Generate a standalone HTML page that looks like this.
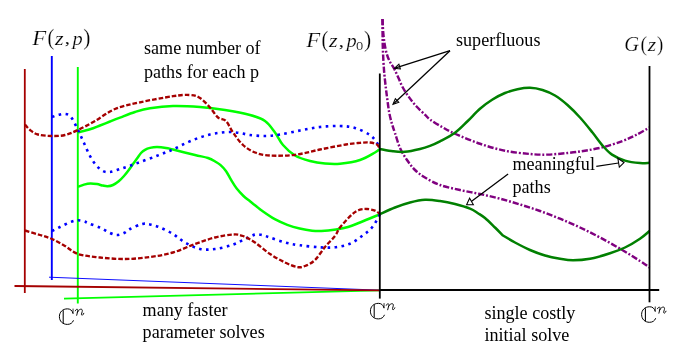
<!DOCTYPE html>
<html><head><meta charset="utf-8"><title>Parameter homotopy diagram</title>
<style>
html,body{margin:0;padding:0;background:#fff;}
body{width:692px;height:346px;overflow:hidden;font-family:"Liberation Serif",serif;}
svg{display:block;position:absolute;left:0;top:0;opacity:0.999;will-change:transform;}
</style></head><body>
<svg width="692" height="346" viewBox="0 0 692 346">
<rect width="692" height="346" fill="#fff"/>
<path d="M24.8 69 V293" stroke="#a50000" stroke-width="1.8" fill="none"/>
<path d="M51.8 56 V280" stroke="#0000ff" stroke-width="1.9" fill="none"/>
<path d="M77.8 67 V303.5" stroke="#00ff00" stroke-width="1.9" fill="none"/>
<path d="M64 298.7 L380 290.3" stroke="#00ff00" stroke-width="1.75" fill="none"/>
<path d="M49 277.2 L380 290.2" stroke="#0000ff" stroke-width="0.95" fill="none"/>
<path d="M14.5 286.0 L380 290.3" stroke="#a50000" stroke-width="1.8" fill="none"/>
<path d="M78.00 132.40 C80.00 131.88 86.33 130.45 90.00 129.30 C93.67 128.15 96.67 126.80 100.00 125.50 C103.33 124.20 106.67 122.82 110.00 121.50 C113.33 120.18 115.83 119.18 120.00 117.60 C124.17 116.02 130.00 113.57 135.00 112.00 C140.00 110.43 143.67 109.20 150.00 108.20 C156.33 107.20 164.67 106.20 173.00 106.00 C181.33 105.80 191.33 106.33 200.00 107.00 C208.67 107.67 216.67 108.67 225.00 110.00 C233.33 111.33 243.33 113.17 250.00 115.00 C256.67 116.83 260.83 118.08 265.00 121.00 C269.17 123.92 272.00 128.50 275.00 132.50 C278.00 136.50 279.67 141.17 283.00 145.00 C286.33 148.83 290.50 152.83 295.00 155.50 C299.50 158.17 305.00 159.67 310.00 161.00 C315.00 162.33 320.00 163.05 325.00 163.50 C330.00 163.95 334.17 164.28 340.00 163.70 C345.83 163.12 354.17 161.87 360.00 160.00 C365.83 158.13 371.67 154.33 375.00 152.50 C378.33 150.67 379.17 149.58 380.00 149.00" stroke="#00ff00" stroke-width="2.5" fill="none"/>
<path d="M78.00 186.80 C79.00 186.43 81.93 185.17 84.00 184.60 C86.07 184.03 88.23 183.48 90.40 183.40 C92.57 183.32 94.90 183.73 97.00 184.10 C99.10 184.47 101.23 185.25 103.00 185.60 C104.77 185.95 105.93 186.30 107.60 186.20 C109.27 186.10 111.15 185.82 113.00 185.00 C114.85 184.18 116.87 182.80 118.70 181.30 C120.53 179.80 122.32 177.87 124.00 176.00 C125.68 174.13 127.30 172.10 128.80 170.10 C130.30 168.10 131.63 165.92 133.00 164.00 C134.37 162.08 135.67 160.43 137.00 158.60 C138.33 156.77 139.67 154.47 141.00 153.00 C142.33 151.53 143.50 150.65 145.00 149.80 C146.50 148.95 148.00 148.35 150.00 147.90 C152.00 147.45 154.33 147.10 157.00 147.10 C159.67 147.10 163.33 147.50 166.00 147.90 C168.67 148.30 168.17 148.32 173.00 149.50 C177.83 150.68 189.17 153.58 195.00 155.00 C200.83 156.42 204.50 156.83 208.00 158.00 C211.50 159.17 213.90 160.80 216.00 162.00 C218.10 163.20 218.92 163.67 220.60 165.20 C222.28 166.73 224.35 168.75 226.10 171.20 C227.85 173.65 229.33 177.00 231.10 179.90 C232.87 182.80 234.63 185.92 236.70 188.60 C238.77 191.28 241.28 193.88 243.50 196.00 C245.72 198.12 247.92 199.63 250.00 201.30 C252.08 202.97 253.93 204.37 256.00 206.00 C258.07 207.63 259.27 208.90 262.40 211.10 C265.53 213.30 270.65 216.92 274.80 219.20 C278.95 221.48 283.15 223.25 287.30 224.80 C291.45 226.35 295.57 227.52 299.70 228.50 C303.83 229.48 308.48 230.28 312.10 230.70 C315.72 231.12 317.42 231.22 321.40 231.00 C325.38 230.78 331.57 230.07 336.00 229.40 C340.43 228.73 344.00 228.15 348.00 227.00 C352.00 225.85 354.67 224.63 360.00 222.50 C365.33 220.37 376.67 215.58 380.00 214.20" stroke="#00ff00" stroke-width="2.5" fill="none"/>
<path d="M52.00 117.00 C53.00 116.67 55.83 115.50 58.00 115.00 C60.17 114.50 62.83 113.67 65.00 114.00 C67.17 114.33 68.83 114.33 71.00 117.00 C73.17 119.67 75.83 125.67 78.00 130.00 C80.17 134.33 82.00 138.67 84.00 143.00 C86.00 147.33 88.00 152.33 90.00 156.00 C92.00 159.67 93.83 162.50 96.00 165.00 C98.17 167.50 100.67 169.83 103.00 171.00 C105.33 172.17 107.17 172.33 110.00 172.00 C112.83 171.67 116.67 170.05 120.00 169.00 C123.33 167.95 126.50 166.92 130.00 165.70 C133.50 164.48 136.83 163.22 141.00 161.70 C145.17 160.18 150.83 158.18 155.00 156.60 C159.17 155.02 163.00 153.38 166.00 152.20 C169.00 151.02 170.50 150.62 173.00 149.50 C175.50 148.38 178.17 146.87 181.00 145.50 C183.83 144.13 186.83 142.65 190.00 141.30 C193.17 139.95 196.67 138.55 200.00 137.40 C203.33 136.25 206.67 135.18 210.00 134.40 C213.33 133.62 216.67 133.10 220.00 132.70 C223.33 132.30 226.67 131.95 230.00 132.00 C233.33 132.05 236.67 132.50 240.00 133.00 C243.33 133.50 245.83 134.50 250.00 135.00 C254.17 135.50 260.00 136.08 265.00 136.00 C270.00 135.92 274.17 135.42 280.00 134.50 C285.83 133.58 293.33 131.75 300.00 130.50 C306.67 129.25 313.33 127.75 320.00 127.00 C326.67 126.25 334.17 125.83 340.00 126.00 C345.83 126.17 350.00 126.50 355.00 128.00 C360.00 129.50 366.33 132.50 370.00 135.00 C373.67 137.50 375.33 140.67 377.00 143.00 C378.67 145.33 379.50 148.00 380.00 149.00" stroke="#0000ff" stroke-width="2.6" stroke-dasharray="2.6 4.4" fill="none"/>
<path d="M52.00 231.00 C53.00 230.50 55.83 229.08 58.00 228.00 C60.17 226.92 62.67 225.58 65.00 224.50 C67.33 223.42 69.83 222.20 72.00 221.50 C74.17 220.80 76.00 220.33 78.00 220.30 C80.00 220.27 82.17 220.77 84.00 221.30 C85.83 221.83 86.25 222.42 89.00 223.50 C91.75 224.58 97.00 226.22 100.50 227.80 C104.00 229.38 107.25 231.80 110.00 233.00 C112.75 234.20 114.67 235.00 117.00 235.00 C119.33 235.00 121.83 234.00 124.00 233.00 C126.17 232.00 127.00 230.50 130.00 229.00 C133.00 227.50 138.67 224.75 142.00 224.00 C145.33 223.25 147.00 223.92 150.00 224.50 C153.00 225.08 156.17 225.92 160.00 227.50 C163.83 229.08 168.83 231.50 173.00 234.00 C177.17 236.50 180.50 240.00 185.00 242.50 C189.50 245.00 195.00 247.92 200.00 249.00 C205.00 250.08 209.67 249.67 215.00 249.00 C220.33 248.33 227.00 246.67 232.00 245.00 C237.00 243.33 241.17 240.73 245.00 239.00 C248.83 237.27 252.17 235.27 255.00 234.60 C257.83 233.93 259.50 234.52 262.00 235.00 C264.50 235.48 266.17 236.25 270.00 237.50 C273.83 238.75 280.00 241.20 285.00 242.50 C290.00 243.80 294.17 244.50 300.00 245.30 C305.83 246.10 314.17 246.97 320.00 247.30 C325.83 247.63 330.00 247.90 335.00 247.30 C340.00 246.70 345.50 245.58 350.00 243.70 C354.50 241.82 358.33 238.70 362.00 236.00 C365.67 233.30 369.00 231.13 372.00 227.50 C375.00 223.87 378.67 216.42 380.00 214.20" stroke="#0000ff" stroke-width="2.6" stroke-dasharray="2.6 4.4" fill="none"/>
<path d="M25.00 124.50 C25.83 125.42 27.83 128.33 30.00 130.00 C32.17 131.67 34.33 133.50 38.00 134.50 C41.67 135.50 47.50 135.92 52.00 136.00 C56.50 136.08 60.67 136.00 65.00 135.00 C69.33 134.00 73.00 132.33 78.00 130.00 C83.00 127.67 88.83 124.50 95.00 121.00 C101.17 117.50 107.50 112.12 115.00 109.00 C122.50 105.88 130.33 104.43 140.00 102.30 C149.67 100.17 164.67 97.42 173.00 96.20 C181.33 94.98 185.50 94.70 190.00 95.00 C194.50 95.30 196.67 95.92 200.00 98.00 C203.33 100.08 207.00 104.25 210.00 107.50 C213.00 110.75 215.33 115.25 218.00 117.50 C220.67 119.75 223.50 118.50 226.00 121.00 C228.50 123.50 230.17 128.50 233.00 132.50 C235.83 136.50 239.33 141.67 243.00 145.00 C246.67 148.33 250.50 150.75 255.00 152.50 C259.50 154.25 263.33 155.12 270.00 155.50 C276.67 155.88 286.67 155.80 295.00 154.80 C303.33 153.80 311.50 151.22 320.00 149.50 C328.50 147.78 339.33 145.62 346.00 144.50 C352.67 143.38 356.00 143.13 360.00 142.80 C364.00 142.47 367.17 142.22 370.00 142.50 C372.83 142.78 375.33 143.42 377.00 144.50 C378.67 145.58 379.50 148.25 380.00 149.00" stroke="#a50000" stroke-width="2.35" stroke-dasharray="4.6 2.0" fill="none"/>
<path d="M25.00 230.50 C27.50 231.25 35.50 233.58 40.00 235.00 C44.50 236.42 47.83 237.17 52.00 239.00 C56.17 240.83 60.67 243.50 65.00 246.00 C69.33 248.50 72.17 252.08 78.00 254.00 C83.83 255.92 92.17 256.67 100.00 257.50 C107.83 258.33 116.67 259.08 125.00 259.00 C133.33 258.92 142.00 258.08 150.00 257.00 C158.00 255.92 165.50 254.67 173.00 252.50 C180.50 250.33 188.00 246.50 195.00 244.00 C202.00 241.50 208.67 239.08 215.00 237.50 C221.33 235.92 228.33 234.75 233.00 234.50 C237.67 234.25 239.33 234.67 243.00 236.00 C246.67 237.33 250.50 239.50 255.00 242.50 C259.50 245.50 265.00 250.67 270.00 254.00 C275.00 257.33 280.50 260.33 285.00 262.50 C289.50 264.67 293.67 266.42 297.00 267.00 C300.33 267.58 302.00 267.17 305.00 266.00 C308.00 264.83 311.67 263.17 315.00 260.00 C318.33 256.83 321.67 251.00 325.00 247.00 C328.33 243.00 332.50 239.25 335.00 236.00 C337.50 232.75 337.17 231.08 340.00 227.50 C342.83 223.92 348.67 217.47 352.00 214.50 C355.33 211.53 357.50 210.62 360.00 209.70 C362.50 208.78 364.50 208.85 367.00 209.00 C369.50 209.15 372.83 209.73 375.00 210.60 C377.17 211.47 379.17 213.60 380.00 214.20" stroke="#a50000" stroke-width="2.35" stroke-dasharray="4.6 2.0" fill="none"/>
<path d="M382.50 19.00 C382.52 21.67 382.53 29.83 382.60 35.00 C382.67 40.17 382.67 44.17 382.90 50.00 C383.13 55.83 383.52 63.75 384.00 70.00 C384.48 76.25 385.23 82.50 385.80 87.50 C386.37 92.50 386.82 95.75 387.40 100.00 C387.98 104.25 388.53 109.00 389.30 113.00 C390.07 117.00 391.05 120.67 392.00 124.00 C392.95 127.33 393.67 129.00 395.00 133.00 C396.33 137.00 398.00 143.50 400.00 148.00 C402.00 152.50 404.50 156.33 407.00 160.00 C409.50 163.67 412.00 167.08 415.00 170.00 C418.00 172.92 420.83 175.00 425.00 177.50 C429.17 180.00 434.17 182.92 440.00 185.00 C445.83 187.08 453.33 188.50 460.00 190.00 C466.67 191.50 473.33 192.55 480.00 194.00 C486.67 195.45 493.33 196.95 500.00 198.70 C506.67 200.45 513.33 202.45 520.00 204.50 C526.67 206.55 533.33 208.63 540.00 211.00 C546.67 213.37 553.33 215.95 560.00 218.70 C566.67 221.45 573.33 224.37 580.00 227.50 C586.67 230.63 593.33 233.97 600.00 237.50 C606.67 241.03 613.33 244.78 620.00 248.70 C626.67 252.62 635.08 257.87 640.00 261.00 C644.92 264.13 647.92 266.42 649.50 267.50" stroke="#800080" stroke-width="2.45" stroke-dasharray="6.2 1.9 1.9 1.9" fill="none"/>
<path d="M382.50 19.00 C382.62 21.17 382.85 27.83 383.20 32.00 C383.55 36.17 384.00 40.33 384.60 44.00 C385.20 47.67 385.98 51.17 386.80 54.00 C387.62 56.83 388.27 58.53 389.50 61.00 C390.73 63.47 392.70 65.95 394.20 68.80 C395.70 71.65 397.07 74.98 398.50 78.10 C399.93 81.22 401.08 84.37 402.80 87.50 C404.52 90.63 406.55 93.77 408.80 96.90 C411.05 100.03 413.57 103.30 416.30 106.30 C419.03 109.30 422.92 112.70 425.20 114.90 C427.48 117.10 427.20 117.48 430.00 119.50 C432.80 121.52 437.83 124.62 442.00 127.00 C446.17 129.38 448.67 130.96 455.00 133.75 C461.33 136.54 471.67 140.92 480.00 143.75 C488.33 146.58 496.67 149.04 505.00 150.75 C513.33 152.46 522.92 153.36 530.00 154.00 C537.08 154.64 541.25 154.77 547.50 154.60 C553.75 154.43 561.25 153.65 567.50 153.00 C573.75 152.35 578.95 151.70 585.00 150.70 C591.05 149.70 597.55 148.62 603.80 147.00 C610.05 145.38 617.13 143.00 622.50 141.00 C627.87 139.00 631.50 137.25 636.00 135.00 C640.50 132.75 647.25 128.75 649.50 127.50" stroke="#800080" stroke-width="2.45" stroke-dasharray="6.2 1.9 1.9 1.9" fill="none"/>
<path d="M380.00 149.00 C382.17 149.38 388.83 150.83 393.00 151.30 C397.17 151.77 400.50 152.18 405.00 151.80 C409.50 151.42 415.83 149.98 420.00 149.00 C424.17 148.02 426.67 147.17 430.00 145.90 C433.33 144.63 435.83 143.58 440.00 141.40 C444.17 139.22 450.42 136.16 455.00 132.80 C459.58 129.44 463.33 125.26 467.50 121.25 C471.67 117.24 475.83 112.38 480.00 108.75 C484.17 105.12 488.33 102.12 492.50 99.50 C496.67 96.88 500.83 94.71 505.00 93.00 C509.17 91.29 513.33 90.12 517.50 89.25 C521.67 88.38 525.83 87.67 530.00 87.80 C534.17 87.92 538.33 88.72 542.50 90.00 C546.67 91.28 550.83 93.00 555.00 95.50 C559.17 98.00 563.33 101.33 567.50 105.00 C571.67 108.67 575.83 112.92 580.00 117.50 C584.17 122.08 588.67 127.75 592.50 132.50 C596.33 137.25 599.75 142.32 603.00 146.00 C606.25 149.68 608.33 152.17 612.00 154.60 C615.67 157.03 620.33 159.18 625.00 160.60 C629.67 162.02 635.92 162.73 640.00 163.10 C644.08 163.47 647.92 162.85 649.50 162.80" stroke="#008000" stroke-width="2.5" fill="none"/>
<path d="M380.00 214.20 C382.50 213.08 390.00 209.45 395.00 207.50 C400.00 205.55 405.00 203.78 410.00 202.50 C415.00 201.22 420.00 200.05 425.00 199.80 C430.00 199.55 435.00 200.30 440.00 201.00 C445.00 201.70 450.00 202.73 455.00 204.00 C460.00 205.27 466.17 207.07 470.00 208.60 C473.83 210.13 475.50 211.63 478.00 213.20 C480.50 214.77 482.17 215.62 485.00 218.00 C487.83 220.38 492.00 224.58 495.00 227.50 C498.00 230.42 501.67 234.17 503.00 235.50 C505.00 236.67 510.50 240.08 515.00 242.50 C519.50 244.92 525.00 247.83 530.00 250.00 C535.00 252.17 540.00 254.03 545.00 255.50 C550.00 256.97 555.33 258.00 560.00 258.80 C564.67 259.60 568.00 260.30 573.00 260.30 C578.00 260.30 583.83 259.97 590.00 258.80 C596.17 257.63 604.17 255.18 610.00 253.30 C615.83 251.42 620.00 249.93 625.00 247.50 C630.00 245.07 635.92 241.45 640.00 238.70 C644.08 235.95 647.92 232.28 649.50 231.00" stroke="#008000" stroke-width="2.5" fill="none"/>
<path d="M379.8 73.5 V298.6" stroke="#000" stroke-width="1.8" fill="none"/>
<path d="M649.5 66 V302.3" stroke="#000" stroke-width="1.8" fill="none"/>
<path d="M379 290 H659.2" stroke="#000" stroke-width="1.8" fill="none"/>
<path d="M450.00 50.70 L395.73 67.85" stroke="#000" stroke-width="1.25" fill="none"/><path d="M394.30 68.30 L398.89 64.23 L400.39 69.00 Z" stroke="#000" stroke-width="1.05" fill="none" stroke-linejoin="miter"/>
<path d="M450.00 50.70 L394.09 103.27" stroke="#000" stroke-width="1.25" fill="none"/><path d="M393.00 104.30 L395.37 98.64 L398.79 102.28 Z" stroke="#000" stroke-width="1.05" fill="none" stroke-linejoin="miter"/>
<path d="M508.10 174.00 L470.60 201.90" stroke="#000" stroke-width="1.25" fill="none"/><path d="M466.60 204.80 L473.40 204.80 L469.60 198.20 Z" stroke="#000" stroke-width="1.05" fill="#fff" stroke-linejoin="miter"/>
<path d="M596.30 166.30 L618.60 163.00" stroke="#000" stroke-width="1.25" fill="none"/><path d="M624.00 162.50 L617.80 158.20 L619.30 167.20 Z" stroke="#000" stroke-width="1.05" fill="#fff" stroke-linejoin="miter"/>
<g transform="translate(369.90 319.20)" stroke="#000" fill="none" stroke-linecap="butt"><path d="M14.1 -11.2 C13.3 -14.5 11.2 -15.85 8.5 -15.85 C3.8 -15.85 0.5 -12.7 0.5 -8.05 C0.5 -3.4 3.8 -0.3 8.5 -0.3 C11.4 -0.3 13.6 -1.7 14.6 -4.4" stroke-width="1.0"/><path d="M4.3 -14.4 V-1.7" stroke-width="1.05"/><path d="M14.15 -16.1 V-10.9" stroke-width="0.8"/><g transform="translate(16.1 -15.9)" stroke-width="0.95" stroke-linecap="round" stroke-linejoin="round"><path d="M0.3 2.0 C0.9 0.7 1.7 0.25 2.4 0.45 C3.0 0.65 3.0 1.3 2.8 2.1 L1.7 6.5"/><path d="M2.45 3.3 C3.6 1.2 5.2 0.2 6.3 0.4 C7.4 0.6 7.5 1.6 7.2 2.8 L6.5 5.2 C6.3 6.2 6.8 6.6 7.5 6.3 C8.1 6.0 8.5 5.3 8.8 4.5"/></g></g>
<g transform="translate(641.10 322.60)" stroke="#000" fill="none" stroke-linecap="butt"><path d="M14.1 -11.2 C13.3 -14.5 11.2 -15.85 8.5 -15.85 C3.8 -15.85 0.5 -12.7 0.5 -8.05 C0.5 -3.4 3.8 -0.3 8.5 -0.3 C11.4 -0.3 13.6 -1.7 14.6 -4.4" stroke-width="1.0"/><path d="M4.3 -14.4 V-1.7" stroke-width="1.05"/><path d="M14.15 -16.1 V-10.9" stroke-width="0.8"/><g transform="translate(16.1 -15.9)" stroke-width="0.95" stroke-linecap="round" stroke-linejoin="round"><path d="M0.3 2.0 C0.9 0.7 1.7 0.25 2.4 0.45 C3.0 0.65 3.0 1.3 2.8 2.1 L1.7 6.5"/><path d="M2.45 3.3 C3.6 1.2 5.2 0.2 6.3 0.4 C7.4 0.6 7.5 1.6 7.2 2.8 L6.5 5.2 C6.3 6.2 6.8 6.6 7.5 6.3 C8.1 6.0 8.5 5.3 8.8 4.5"/></g></g>
<g transform="translate(58.90 324.70)" stroke="#000" fill="none" stroke-linecap="butt"><path d="M14.1 -11.2 C13.3 -14.5 11.2 -15.85 8.5 -15.85 C3.8 -15.85 0.5 -12.7 0.5 -8.05 C0.5 -3.4 3.8 -0.3 8.5 -0.3 C11.4 -0.3 13.6 -1.7 14.6 -4.4" stroke-width="1.0"/><path d="M4.3 -14.4 V-1.7" stroke-width="1.05"/><path d="M14.15 -16.1 V-10.9" stroke-width="0.8"/><g transform="translate(16.1 -15.9)" stroke-width="0.95" stroke-linecap="round" stroke-linejoin="round"><path d="M0.3 2.0 C0.9 0.7 1.7 0.25 2.4 0.45 C3.0 0.65 3.0 1.3 2.8 2.1 L1.7 6.5"/><path d="M2.45 3.3 C3.6 1.2 5.2 0.2 6.3 0.4 C7.4 0.6 7.5 1.6 7.2 2.8 L6.5 5.2 C6.3 6.2 6.8 6.6 7.5 6.3 C8.1 6.0 8.5 5.3 8.8 4.5"/></g></g>
<text x="144.00" y="54.30" font-family="Liberation Serif, serif" font-size="18.1" >same number of</text>
<text x="144.00" y="77.50" font-family="Liberation Serif, serif" font-size="18.1" >paths for each p</text>
<text x="142.60" y="316.20" font-family="Liberation Serif, serif" font-size="18.1" >many faster</text>
<text x="142.60" y="338.40" font-family="Liberation Serif, serif" font-size="18.1" >parameter solves</text>
<text x="484.40" y="318.90" font-family="Liberation Serif, serif" font-size="18.1" >single costly</text>
<text x="484.40" y="341.30" font-family="Liberation Serif, serif" font-size="18.1" >initial solve</text>
<text x="456.00" y="45.50" font-family="Liberation Serif, serif" font-size="18.1" >superfluous</text>
<text x="512.50" y="169.50" font-family="Liberation Serif, serif" font-size="18.1" >meaningful</text>
<text x="512.50" y="193.00" font-family="Liberation Serif, serif" font-size="18.1" >paths</text>
<text transform="matrix(1.1440 0 0 1.0231 32.31 44.60)" font-family="Liberation Serif, serif" font-size="20" stroke="#fff" stroke-width="0.2" font-style="italic">F</text>
<text transform="matrix(1.0196 0 0 1.1056 47.48 44.86)" font-family="Liberation Serif, serif" font-size="20" stroke="#fff" stroke-width="0.2">(</text>
<text transform="matrix(1.1039 0 0 0.9022 55.02 44.50)" font-family="Liberation Serif, serif" font-size="20" stroke="#fff" stroke-width="0.2" font-style="italic">z</text>
<text transform="matrix(1.1724 0 0 0.8627 64.56 44.41)" font-family="Liberation Serif, serif" font-size="20" stroke="#fff" stroke-width="0.2">,</text>
<text transform="matrix(1.0189 0 0 0.9265 72.52 44.91)" font-family="Liberation Serif, serif" font-size="20" stroke="#fff" stroke-width="0.2" font-style="italic">p</text>
<text transform="matrix(1.0769 0 0 1.1056 83.15 44.86)" font-family="Liberation Serif, serif" font-size="20" stroke="#fff" stroke-width="0.2">)</text>
<text transform="matrix(1.1440 0 0 1.0231 306.31 47.10)" font-family="Liberation Serif, serif" font-size="20" stroke="#fff" stroke-width="0.2" font-style="italic">F</text>
<text transform="matrix(1.0196 0 0 1.1056 321.48 47.36)" font-family="Liberation Serif, serif" font-size="20" stroke="#fff" stroke-width="0.2">(</text>
<text transform="matrix(1.1039 0 0 0.9022 329.02 47.00)" font-family="Liberation Serif, serif" font-size="20" stroke="#fff" stroke-width="0.2" font-style="italic">z</text>
<text transform="matrix(1.1724 0 0 0.8627 338.56 46.91)" font-family="Liberation Serif, serif" font-size="20" stroke="#fff" stroke-width="0.2">,</text>
<text transform="matrix(1.0189 0 0 0.9118 346.52 47.27)" font-family="Liberation Serif, serif" font-size="20" stroke="#fff" stroke-width="0.2" font-style="italic">p</text>
<text transform="matrix(1.0374 0 0 0.8889 356.02 49.68)" font-family="Liberation Serif, serif" font-size="14" stroke="#fff" stroke-width="0.2">0</text>
<text transform="matrix(1.0769 0 0 1.1056 363.95 47.36)" font-family="Liberation Serif, serif" font-size="20" stroke="#fff" stroke-width="0.2">)</text>
<text transform="matrix(1.0233 0 0 1.0149 624.17 51.30)" font-family="Liberation Serif, serif" font-size="20" stroke="#fff" stroke-width="0.2" font-style="italic">G</text>
<text transform="matrix(0.9804 0 0 1.0889 640.52 51.43)" font-family="Liberation Serif, serif" font-size="20" stroke="#fff" stroke-width="0.2">(</text>
<text transform="matrix(1.0779 0 0 0.9130 647.82 51.30)" font-family="Liberation Serif, serif" font-size="20" stroke="#fff" stroke-width="0.2" font-style="italic">z</text>
<text transform="matrix(0.9423 0 0 1.0889 657.03 51.43)" font-family="Liberation Serif, serif" font-size="20" stroke="#fff" stroke-width="0.2">)</text>
</svg>
</body></html>
